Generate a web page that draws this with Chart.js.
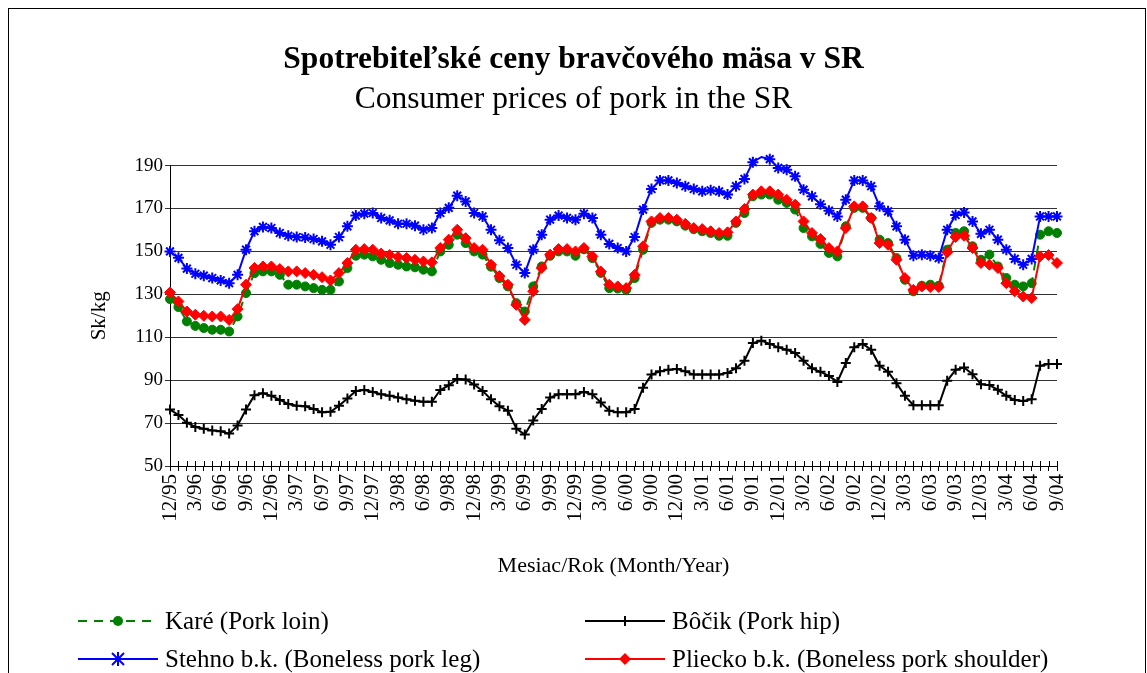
<!DOCTYPE html>
<html lang="sk">

<head>
    <meta charset="UTF-8">
    <title>Spotrebiteľské ceny bravčového mäsa v SR</title>
    <script src="https://cdn.jsdelivr.net/npm/chart.js"></script>
    <style>
        body {
            margin: 0;
            background: #fff;
            overflow: hidden;
            font-family: "Liberation Serif", "Times New Roman", serif;
        }

        #wrap {
            position: relative;
            width: 1147px;
            height: 673px;
        }

        .frame {
            position: absolute;
            left: 8px;
            top: 8px;
            width: 1136px;
            height: 720px;
            border: 1px solid #000;
        }

        #chart {
            position: absolute;
            left: 0;
            top: 0;
        }

        .item {
            position: absolute;
            display: flex;
            align-items: center;
            font-size: 25px;
            color: #000;
            white-space: nowrap;
            height: 30px;
        }

        .item svg {
            margin-right: 7px;
        }
    </style>
</head>

<body>
    <div id="wrap">
        <div class="frame"></div>
        <canvas id="chart" width="1147" height="673"></canvas>

        <div class="item" style="left:78px; top:606px;">
            <svg width="80" height="20">
                <line x1="0" y1="10" x2="80" y2="10" stroke="#008000" stroke-width="2" stroke-dasharray="9,7"></line>
                <circle cx="40" cy="10" r="5" fill="#008000"></circle>
            </svg>
            Karé (Pork loin)
        </div>
        <div class="item" style="left:585px; top:606px;">
            <svg width="80" height="20">
                <line x1="0" y1="10" x2="80" y2="10" stroke="#000" stroke-width="2"></line>
                <path d="M35 10 H45 M40 5 V15" stroke="#000" stroke-width="2"></path>
            </svg>
            Bôčik (Pork hip)
        </div>
        <div class="item" style="left:78px; top:644px;">
            <svg width="80" height="20">
                <line x1="0" y1="10" x2="80" y2="10" stroke="#0000ff" stroke-width="2"></line>
                <path d="M34 4 L46 16 M46 4 L34 16 M40 3 V17" stroke="#0000ff" stroke-width="2"></path>
            </svg>
            Stehno b.k. (Boneless pork leg)
        </div>
        <div class="item" style="left:585px; top:644px;">
            <svg width="80" height="20">
                <line x1="0" y1="10" x2="80" y2="10" stroke="#ff0000" stroke-width="2"></line>
                <path d="M40 4 L46 10 L40 16 L34 10 Z" fill="#ff0000"></path>
            </svg>
            Pliecko b.k. (Boneless pork shoulder)
        </div>
    </div>

    <script>
        // months 12/95 .. 9/04
        const months = [
            '12/95',
            '1/96', '2/96', '3/96', '4/96', '5/96', '6/96', '7/96', '8/96', '9/96', '10/96', '11/96', '12/96',
            '1/97', '2/97', '3/97', '4/97', '5/97', '6/97', '7/97', '8/97', '9/97', '10/97', '11/97', '12/97',
            '1/98', '2/98', '3/98', '4/98', '5/98', '6/98', '7/98', '8/98', '9/98', '10/98', '11/98', '12/98',
            '1/99', '2/99', '3/99', '4/99', '5/99', '6/99', '7/99', '8/99', '9/99', '10/99', '11/99', '12/99',
            '1/00', '2/00', '3/00', '4/00', '5/00', '6/00', '7/00', '8/00', '9/00', '10/00', '11/00', '12/00',
            '1/01', '2/01', '3/01', '4/01', '5/01', '6/01', '7/01', '8/01', '9/01', '10/01', '11/01', '12/01',
            '1/02', '2/02', '3/02', '4/02', '5/02', '6/02', '7/02', '8/02', '9/02', '10/02', '11/02', '12/02',
            '1/03', '2/03', '3/03', '4/03', '5/03', '6/03', '7/03', '8/03', '9/03', '10/03', '11/03', '12/03',
            '1/04', '2/04', '3/04', '4/04', '5/04', '6/04', '7/04', '8/04', '9/04'
        ];

        // labels printed under the axis (every third month)
        const tickLabels = [
            '12/95', '3/96', '6/96', '9/96', '12/96', '3/97', '6/97', '9/97', '12/97',
            '3/98', '6/98', '9/98', '12/98', '3/99', '6/99', '9/99', '12/99', '3/00',
            '6/00', '9/00', '12/00', '3/01', '6/01', '9/01', '12/01', '3/02', '6/02',
            '9/02', '12/02', '3/03', '6/03', '9/03', '12/03', '3/04', '6/04', '9/04'
        ];

        // Karé (Pork loin)
        const kare = [
            127.8, 124.1, 117.4, 115.3, 114.3, 113.5, 113.5, 112.7, 119.7, 130.6,
            139.9, 140.7, 140.7, 139.1, 134.5, 134.5, 133.7, 132.9, 132.1, 132.1,
            136.0, 142.3, 148.0, 148.5, 147.7, 146.1, 144.6, 143.8, 143.0, 142.6,
            141.5, 140.7, 150.0, 153.1, 157.8, 153.9, 150.0, 148.5, 142.9, 137.6,
            133.7, 125.9, 122.0, 133.7, 143.0, 148.0, 150.0, 150.0, 148.0, 151.0,
            146.9, 140.0, 132.9, 132.7, 132.1, 137.6, 150.8, 163.3, 164.8, 164.8,
            164.0, 162.0, 160.4, 159.4, 158.6, 157.3, 157.3, 163.3, 167.9, 175.7,
            176.5, 176.5, 174.1, 172.6, 169.5, 160.9, 157.0, 153.5, 149.3, 147.7,
            161.7, 170.3, 170.3, 165.6, 155.5, 153.9, 146.9, 136.8, 131.4, 134.0,
            134.5, 134.0, 150.8, 158.6, 159.4, 152.4, 146.1, 148.5, 143.0, 137.6,
            134.5, 133.7, 135.2, 157.8, 159.4, 158.6
        ];

        // Bôčik (Pork hip)
        const bocik = [
            76.3, 73.8, 70.2, 68.2, 67.4, 66.6, 66.2, 65.1, 68.9, 76.3,
            83.0, 83.9, 82.7, 80.8, 78.9, 78.1, 77.8, 76.6, 75.0, 75.3,
            78.1, 81.5, 85.0, 85.4, 84.5, 83.4, 82.7, 81.9, 81.1, 80.4,
            79.9, 79.9, 85.4, 87.6, 90.6, 90.3, 88.0, 85.0, 81.1, 77.8,
            75.8, 67.4, 64.7, 71.2, 76.6, 81.9, 83.4, 83.4, 83.4, 84.5,
            83.4, 79.6, 75.8, 75.0, 75.0, 76.6, 86.5, 92.6, 94.1, 94.9,
            95.2, 94.1, 92.6, 92.6, 92.6, 92.6, 93.4, 95.6, 99.0, 107.3,
            108.4, 106.9, 105.3, 104.2, 102.7, 99.1, 95.5, 93.9, 92.0, 89.2,
            98.0, 105.3, 106.9, 104.2, 96.7, 93.9, 88.6, 82.7, 78.3, 78.3,
            78.3, 78.3, 89.7, 94.8, 95.9, 92.8, 88.1, 87.7, 85.5, 82.7,
            80.8, 80.3, 81.1, 96.7, 97.5, 97.5
        ];

        // Stehno b.k. (Boneless pork leg)
        const stehno = [
            150.0, 147.0, 142.0, 139.6, 138.7, 137.6, 136.5, 135.2, 139.1, 150.8,
            159.4, 161.4, 160.9, 158.6, 157.3, 156.7, 156.5, 155.8, 154.7, 153.1,
            156.7, 161.7, 166.7, 167.6, 167.9, 165.6, 164.5, 162.9, 162.9, 162.0,
            160.1, 160.9, 167.9, 170.3, 176.0, 173.3, 167.9, 166.3, 160.1, 155.2,
            151.6, 143.8, 139.9, 150.8, 157.8, 164.8, 166.7, 165.6, 164.8, 167.6,
            165.6, 157.8, 153.5, 151.6, 150.0, 156.7, 169.5, 179.1, 183.1, 183.1,
            181.9, 180.4, 179.1, 178.0, 178.5, 178.0, 176.5, 180.4, 183.8, 191.6,
            194.0, 193.0, 188.9, 188.1, 185.0, 178.8, 175.7, 172.0, 169.0, 166.3,
            174.1, 183.1, 183.1, 180.4, 171.0, 168.7, 161.7, 155.5, 148.0, 148.5,
            148.0, 146.9, 160.1, 167.0, 168.2, 164.0, 158.2, 160.1, 155.5, 150.8,
            146.5, 143.8, 146.5, 166.3, 166.3, 166.3
        ];

        // Pliecko b.k. (Boneless pork shoulder)
        const pliecko = [
            130.9, 126.7, 122.0, 120.5, 120.0, 119.7, 119.7, 118.1, 123.1, 134.5,
            142.3, 143.0, 143.0, 141.8, 140.7, 140.7, 139.9, 139.1, 138.0, 136.5,
            139.9, 144.6, 150.8, 151.1, 150.8, 149.0, 148.3, 147.4, 146.9, 146.1,
            145.3, 144.9, 151.6, 155.5, 160.1, 156.2, 151.6, 150.8, 143.8, 138.5,
            134.5, 125.1, 118.1, 131.4, 142.3, 148.5, 151.1, 151.1, 150.0, 151.6,
            147.7, 140.6, 134.5, 133.7, 132.9, 139.1, 152.4, 164.0, 165.6, 165.6,
            164.8, 162.9, 160.9, 160.4, 159.4, 158.6, 158.9, 164.0, 169.8, 176.5,
            178.0, 178.0, 176.5, 174.1, 171.8, 164.0, 158.6, 155.8, 151.6, 150.0,
            160.9, 171.0, 171.0, 165.6, 153.9, 153.1, 146.1, 137.6, 132.1, 133.7,
            133.4, 133.4, 149.6, 156.7, 157.3, 151.6, 144.6, 143.8, 142.3, 135.2,
            131.4, 129.0, 128.3, 147.7, 148.3, 144.6
        ];

        const serif = '"Liberation Serif", "Times New Roman", serif';
        Chart.defaults.color = '#000';
        Chart.defaults.font.family = serif;

        // little tick marks above the x axis, Excel draws them crossing the axis
        const crossTicks = {
            id: 'crossTicks',
            beforeDatasetsDraw(chart) {
                const sc = chart.scales.x;
                const ctx = chart.ctx;
                const y0 = chart.chartArea.bottom;
                ctx.save();
                ctx.strokeStyle = '#000';
                ctx.lineWidth = 1;
                ctx.beginPath();
                sc.ticks.forEach((t, i) => {
                    const px = Math.round(sc.getPixelForTick(i)) + 0.5;
                    ctx.moveTo(px, y0 - 5);
                    ctx.lineTo(px, y0);
                });
                ctx.stroke();
                ctx.restore();
            }
        };

        new Chart(document.getElementById('chart'), {
            type: 'line',
            data: {
                labels: months,
                datasets: [{
                    label: 'Karé (Pork loin)',
                    data: kare,
                    order: 4,
                    borderColor: '#008000',
                    backgroundColor: '#008000',
                    borderWidth: 2,
                    borderDash: [9, 7],
                    pointStyle: 'circle',
                    pointRadius: 4.5,
                    pointBorderWidth: 1,
                    tension: 0
                }, {
                    label: 'Bôčik (Pork hip)',
                    data: bocik,
                    order: 2,
                    borderColor: '#000',
                    backgroundColor: '#000',
                    borderWidth: 2,
                    pointStyle: 'cross',
                    pointRadius: 5,
                    pointBorderWidth: 2,
                    tension: 0
                }, {
                    label: 'Stehno b.k. (Boneless pork leg)',
                    data: stehno,
                    order: 3,
                    clip: false,
                    borderColor: '#0000ff',
                    backgroundColor: '#0000ff',
                    borderWidth: 2,
                    pointStyle: 'star',
                    pointRadius: 5.5,
                    pointBorderWidth: 2,
                    tension: 0
                }, {
                    label: 'Pliecko b.k. (Boneless pork shoulder)',
                    data: pliecko,
                    order: 1,
                    borderColor: '#ff0000',
                    backgroundColor: '#ff0000',
                    borderWidth: 2,
                    pointStyle: 'rectRot',
                    pointRadius: 5.5,
                    pointBorderWidth: 1,
                    tension: 0
                }]
            },
            options: {
                responsive: false,
                animation: false,
                devicePixelRatio: 1,
                layout: {
                    padding: 0
                },
                plugins: {
                    legend: { display: false },
                    tooltip: { enabled: false },
                    title: {
                        display: true,
                        text: 'Spotrebiteľské ceny bravčového mäsa v SR',
                        font: { size: 31.5, weight: 'bold', family: serif, lineHeight: 1.2 },
                        padding: { top: 41, bottom: 0 }
                    },
                    subtitle: {
                        display: true,
                        text: 'Consumer prices of pork in the SR',
                        color: '#000',
                        font: { size: 31.5, family: serif, lineHeight: 1.2 },
                        padding: { top: 2, bottom: 47 }
                    }
                },
                scales: {
                    x: {
                        afterFit: (s) => { s.height = 207; },
                        grid: {
                            drawOnChartArea: false,
                            drawTicks: true,
                            tickLength: 5,
                            color: '#000'
                        },
                        border: { display: true, color: '#000' },
                        ticks: {
                            autoSkip: false,
                            minRotation: 90,
                            maxRotation: 90,
                            padding: 3,
                            font: { size: 21, family: serif },
                            callback: function (value, index) {
                                const m = months[index];
                                return tickLabels.includes(m) ? m : '';
                            }
                        },
                        title: {
                            display: true,
                            text: 'Mesiac/Rok (Month/Year)',
                            font: { size: 22, family: serif, lineHeight: 1.2 },
                            padding: { top: 0, bottom: 94 }
                        }
                    },
                    y: {
                        min: 50,
                        max: 190,
                        afterFit: (s) => { s.width = 170; },
                        grid: {
                            color: '#333',
                            lineWidth: 1,
                            tickLength: 5
                        },
                        border: { display: true, color: '#000' },
                        ticks: {
                            stepSize: 20,
                            padding: 2,
                            font: { size: 19, family: serif }
                        },
                        title: {
                            display: true,
                            text: 'Sk/kg',
                            font: { size: 21, family: serif, lineHeight: 1.2 },
                            padding: { top: 87, bottom: 0 }
                        }
                    },
                    // empty right-hand box: keeps the plot narrower than the page
                    // so that the titles stay centred on the whole figure
                    spacer: {
                        position: 'right',
                        afterFit: (s) => { s.width = 90; },
                        ticks: { display: false },
                        grid: { display: false },
                        border: { display: false }
                    }
                }
            },
            plugins: [crossTicks]
        });
    </script>
</body>

</html>
